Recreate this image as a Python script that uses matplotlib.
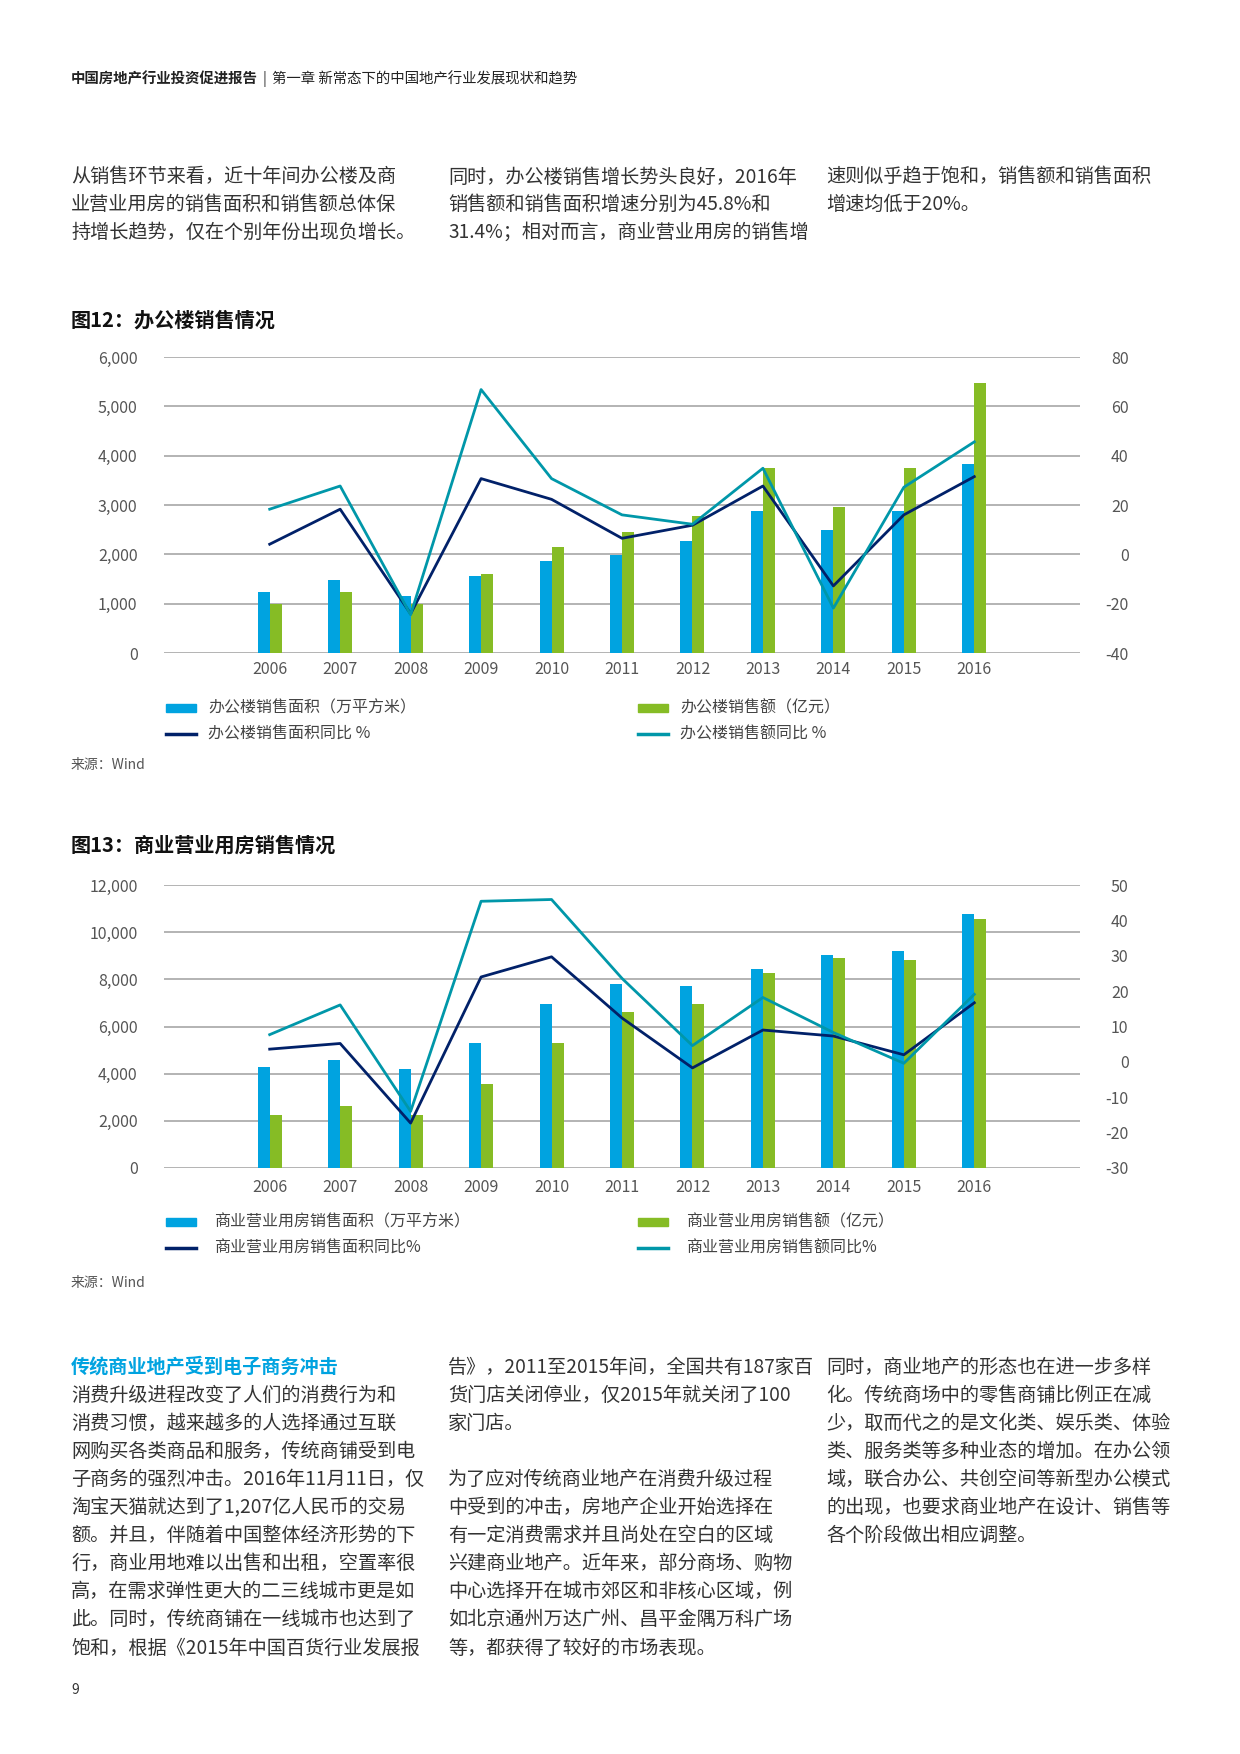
import numpy as np
import matplotlib
matplotlib.use("Agg")
import matplotlib.pyplot as plt
from matplotlib.patches import Rectangle
from matplotlib.lines import Line2D

plt.rcParams['font.family'] = ['Noto Sans CJK SC', 'DejaVu Sans']
plt.rcParams['axes.unicode_minus'] = False

years = ['2006', '2007', '2008', '2009', '2010', '2011', '2012', '2013', '2014', '2015', '2016']

# 图12 办公楼
office_area = [1240, 1480, 1160, 1565, 1870, 1990, 2270, 2880, 2495, 2880, 3830]
office_sales = [985, 1240, 985, 1605, 2150, 2455, 2780, 3750, 2960, 3750, 5470]
office_area_yoy = [4.1, 18.3, -24.1, 30.7, 22.3, 6.5, 11.8, 27.7, -12.8, 16.0, 31.5]
office_sales_yoy = [18.3, 27.7, -24.5, 66.8, 30.7, 16.0, 12.2, 34.9, -21.8, 27.2, 45.6]

# 图13 商业营业用房
comm_area = [4290, 4590, 4205, 5310, 6960, 7805, 7720, 8440, 9030, 9200, 10770]
comm_sales = [2260, 2640, 2260, 3570, 5310, 6620, 6960, 8270, 8905, 8820, 10560]
comm_area_yoy = [3.6, 5.2, -17.3, 24.0, 29.7, 12.4, -1.7, 9.0, 7.3, 2.0, 16.7]
comm_sales_yoy = [7.7, 16.1, -14.0, 45.4, 45.9, 23.6, 4.6, 18.2, 8.3, -0.4, 19.1]

BLUE = '#00a3e0'
GREEN = '#86bc25'
NAVY = '#012169'
TEAL = '#0097a9'
GRID = '#b3b3b3'
TXT = '#333333'
TICK = '#555555'

W, H = 1240, 1754
fig = plt.figure(figsize=(W / 100, H / 100), dpi=100)


def fx(x):
    return x / W


def fy(y):
    return 1 - y / H


def put(x, y, s, **kw):
    kw.setdefault('color', TXT)
    kw.setdefault('va', 'center')
    return fig.text(fx(x), fy(y), s, **kw)


# header
r = fig.canvas.get_renderer()
t = put(71, 79, '中国房地产行业投资促进报告', fontsize=10.4, fontweight='bold', color='#222222')
x_end = t.get_window_extent(r).x1
put(x_end + 5, 79, '|', fontsize=10.5, color='#222222')
put(x_end + 14, 79, '第一章 新常态下的中国地产行业发展现状和趋势', fontsize=10.4, color='#222222')

# top paragraphs
top_cols = [
    (71, ['从销售环节来看，近十年间办公楼及商',
          '业营业用房的销售面积和销售额总体保',
          '持增长趋势，仅在个别年份出现负增长。']),
    (448, ['同时，办公楼销售增长势头良好，2016年',
           '销售额和销售面积增速分别为45.8%和',
           '31.4%；相对而言，商业营业用房的销售增']),
    (826, ['速则似乎趋于饱和，销售额和销售面积',
           '增速均低于20%。']),
]
for x, lines in top_cols:
    for i, s in enumerate(lines):
        put(x, 177 + 27.6 * i, s, fontsize=13.8)


def draw_chart(top, bottom, title, title_y, area, sales, area_yoy, sales_yoy,
               ylim1, step1, ylim2, step2, xpad, leg_y, leg_text_x2, leg_labels, src_y):
    put(71, title_y, title, fontsize=14.5, fontweight='bold', color='#111111')
    ax = fig.add_axes([fx(164), fy(bottom), fx(1080) - fx(164), fy(top) - fy(bottom)])
    x = np.arange(len(years))
    w = 0.17
    ax.bar(x - w, area, width=w, align='edge', color=BLUE, zorder=3)
    ax.bar(x, sales, width=w, align='edge', color=GREEN, zorder=3)
    ax.set_xlim(-1.5, len(years) + 0.5)
    ax.set_ylim(*ylim1)
    ax.set_yticks(np.arange(ylim1[0], ylim1[1] + 1, step1))
    ax.set_yticklabels([f'{v:,}' for v in np.arange(ylim1[0], ylim1[1] + 1, step1)])
    ax.set_xticks(x)
    ax.set_xticklabels(years)
    ax.grid(axis='y', color=GRID, linewidth=1.4, zorder=0)
    ax.set_axisbelow(True)
    for sp in ax.spines.values():
        sp.set_visible(False)
    ax.tick_params(axis='y', length=0, pad=19, labelsize=11.5, labelcolor=TICK)
    ax.tick_params(axis='x', length=0, pad=xpad, labelsize=11.5, labelcolor=TICK)

    ax2 = ax.twinx()
    ax2.plot(x, area_yoy, color=NAVY, linewidth=2)
    ax2.plot(x, sales_yoy, color=TEAL, linewidth=2)
    ax2.set_ylim(*ylim2)
    ax2.set_yticks(np.arange(ylim2[0], ylim2[1] + 1, step2))
    for sp in ax2.spines.values():
        sp.set_visible(False)
    ax2.tick_params(axis='y', length=0, pad=35, labelsize=11.5, labelcolor=TICK)
    for lab in ax2.get_yticklabels():
        lab.set_ha('right')

    # legend
    items = [
        (166, leg_y[0], 'bar', BLUE, leg_labels[0], leg_text_x2 - 472),
        (638, leg_y[0], 'bar', GREEN, leg_labels[1], leg_text_x2),
        (166, leg_y[1], 'line', NAVY, leg_labels[2], leg_text_x2 - 472),
        (638, leg_y[1], 'line', TEAL, leg_labels[3], leg_text_x2),
    ]
    for px0, py, kind, col, lab, tx in items:
        if kind == 'bar':
            fig.patches.append(Rectangle((fx(px0), fy(py + 4)), 30 / W, 8 / H,
                                         transform=fig.transFigure, color=col))
        else:
            fig.lines.append(Line2D([fx(px0), fx(px0 + 30)], [fy(py), fy(py)],
                                    transform=fig.transFigure, color=col, linewidth=2.5))
        put(tx, py, lab, fontsize=11.5, color='#444444')
    put(71, src_y, '来源：Wind', fontsize=10, color='#555555')


draw_chart(357, 653, '图12：办公楼销售情况', 320,
           office_area, office_sales, office_area_yoy, office_sales_yoy,
           (0, 6000), 1000, (-40, 80), 20, 6, (708, 734), 680,
           ['办公楼销售面积（万平方米）', '办公楼销售额（亿元）',
            '办公楼销售面积同比 %', '办公楼销售额同比 %'], 765)

draw_chart(885, 1168, '图13：商业营业用房销售情况', 845,
           comm_area, comm_sales, comm_area_yoy, comm_sales_yoy,
           (0, 12000), 2000, (-30, 50), 10, 8, (1222, 1248), 686,
           ['商业营业用房销售面积（万平方米）', '商业营业用房销售额（亿元）',
            '商业营业用房销售面积同比%', '商业营业用房销售额同比%'], 1283)

# bottom text
bot_cols = [
    (71, ['消费升级进程改变了人们的消费行为和',
          '消费习惯，越来越多的人选择通过互联',
          '网购买各类商品和服务，传统商铺受到电',
          '子商务的强烈冲击。2016年11月11日，仅',
          '淘宝天猫就达到了1,207亿人民币的交易',
          '额。并且，伴随着中国整体经济形势的下',
          '行，商业用地难以出售和出租，空置率很',
          '高，在需求弹性更大的二三线城市更是如',
          '此。同时，传统商铺在一线城市也达到了',
          '饱和，根据《2015年中国百货行业发展报'], 1),
    (448, ['告》，2011至2015年间，全国共有187家百',
           '货门店关闭停业，仅2015年就关闭了100',
           '家门店。',
           '',
           '为了应对传统商业地产在消费升级过程',
           '中受到的冲击，房地产企业开始选择在',
           '有一定消费需求并且尚处在空白的区域',
           '兴建商业地产。近年来，部分商场、购物',
           '中心选择开在城市郊区和非核心区域，例',
           '如北京通州万达广州、昌平金隅万科广场',
           '等，都获得了较好的市场表现。'], 0),
    (826, ['同时，商业地产的形态也在进一步多样',
           '化。传统商场中的零售商铺比例正在减',
           '少，取而代之的是文化类、娱乐类、体验',
           '类、服务类等多种业态的增加。在办公领',
           '域，联合办公、共创空间等新型办公模式',
           '的出现，也要求商业地产在设计、销售等',
           '各个阶段做出相应调整。'], 0),
]
put(71, 1367, '传统商业地产受到电子商务冲击', fontsize=13.8, fontweight='bold', color=BLUE)
for x, lines, start in bot_cols:
    for i, s in enumerate(lines):
        if s:
            put(x, 1367 + 28.1 * (i + start), s, fontsize=13.8)

put(71, 1690, '9', fontsize=10, color='#333333')

fig.savefig('out.png', dpi=100)
